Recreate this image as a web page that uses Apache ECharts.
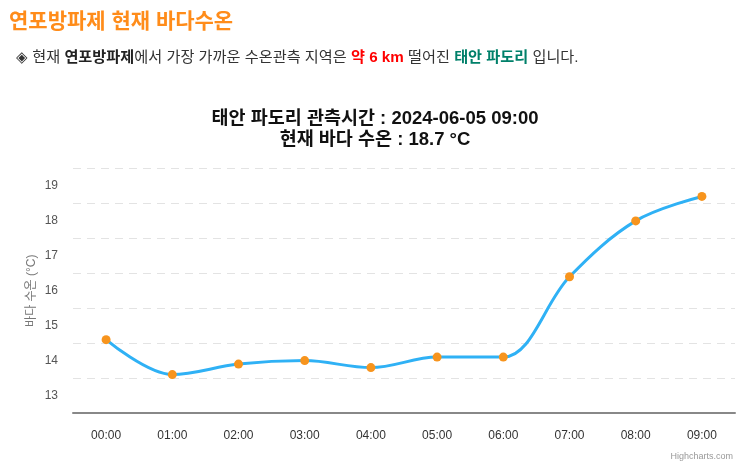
<!DOCTYPE html>
<html>
<head>
<meta charset="utf-8">
<script src="https://cdn.jsdelivr.net/npm/echarts@6/dist/echarts.min.js"></script>
<style>
html,body{margin:0;padding:0;background:#fff;}
#c{width:750px;height:466px;}
</style>
</head>
<body>
<div id="c"></div>
<script>
var categories = ['00:00','01:00','02:00','03:00','04:00','05:00','06:00','07:00','08:00','09:00'];
var seaTemp = [14.6, 13.6, 13.9, 14.0, 13.8, 14.1, 14.1, 16.4, 18.0, 18.7];
var yTickLabels = [13, 14, 15, 16, 17, 18, 19];

var FONT = '"Liberation Sans", "Noto Sans CJK KR", sans-serif';
var chart = echarts.init(document.getElementById('c'), null, {renderer: 'canvas'});
chart.setOption({
  backgroundColor: '#fff',
  animation: false,
  title: [
    {
      text: '연포방파제 현재 바다수온',
      left: 4, top: 7,
      textStyle: {fontFamily: FONT, fontSize: 21, fontWeight: 'bold', color: '#ff8c1a'}
    },
    {
      text: '◈ 현재 {b|연포방파제}에서 가장 가까운 수온관측 지역은 {r|약 6 km} 떨어진 {g|태안 파도리} 입니다.',
      left: 11, top: 45,
      textStyle: {
        fontFamily: FONT, fontSize: 15.2, fontWeight: 'normal', color: '#333',
        rich: {
          b: {fontFamily: FONT, fontSize: 15.2, fontWeight: 'bold', color: '#222'},
          r: {fontFamily: FONT, fontSize: 15.2, fontWeight: 'bold', color: '#ff0000'},
          g: {fontFamily: FONT, fontSize: 15.2, fontWeight: 'bold', color: '#00806a'}
        }
      }
    },
    {
      text: '태안 파도리 관측시간 : 2024-06-05 09:00\n현재 바다 수온 : 18.7 °C',
      left: 'center', top: 103,
      textStyle: {fontFamily: FONT, fontSize: 18.5, fontWeight: 'bold', color: '#111', lineHeight: 21}
    },
    {
      text: 'Highcharts.com',
      right: 12, top: 447,
      textStyle: {fontFamily: '"Liberation Sans", Arial, sans-serif', fontSize: 9, fontWeight: 'normal', color: '#999'}
    }
  ],
  grid: {left: 73, right: 15, top: 168.5, bottom: 53, containLabel: false},
  xAxis: {
    type: 'category',
    data: categories,
    boundaryGap: true,
    axisLine: {show: true, lineStyle: {color: '#888', width: 2}},
    axisTick: {show: false},
    axisLabel: {color: '#333', fontSize: 12, fontFamily: '"Liberation Sans", Arial, sans-serif', margin: 17},
    splitLine: {show: false}
  },
  yAxis: {
    type: 'value',
    min: 12.5, max: 19.5, interval: 1,
    name: '바다 수온 (°C)',
    nameLocation: 'middle',
    nameGap: 35,
    nameMoveOverlap: false,
    nameRotate: 90,
    nameTextStyle: {color: '#777', fontSize: 12, fontFamily: FONT},
    axisLine: {show: false},
    axisTick: {show: false},
    axisLabel: {
      color: '#555', fontSize: 12, fontFamily: '"Liberation Sans", Arial, sans-serif', margin: 15,
      customValues: yTickLabels,
      formatter: function (v) { return String(Math.round(v)); }
    },
    splitLine: {show: true, lineStyle: {color: '#e3e3e3', type: [8, 6], width: 1}}
  },
  series: [{
    type: 'line',
    data: seaTemp,
    smooth: 0.35,
    symbol: 'circle',
    symbolSize: 9,
    lineStyle: {color: '#2fb1f5', width: 3},
    itemStyle: {color: '#f7941d', borderWidth: 0},
    z: 3
  }]
});
</script>
</body>
</html>
